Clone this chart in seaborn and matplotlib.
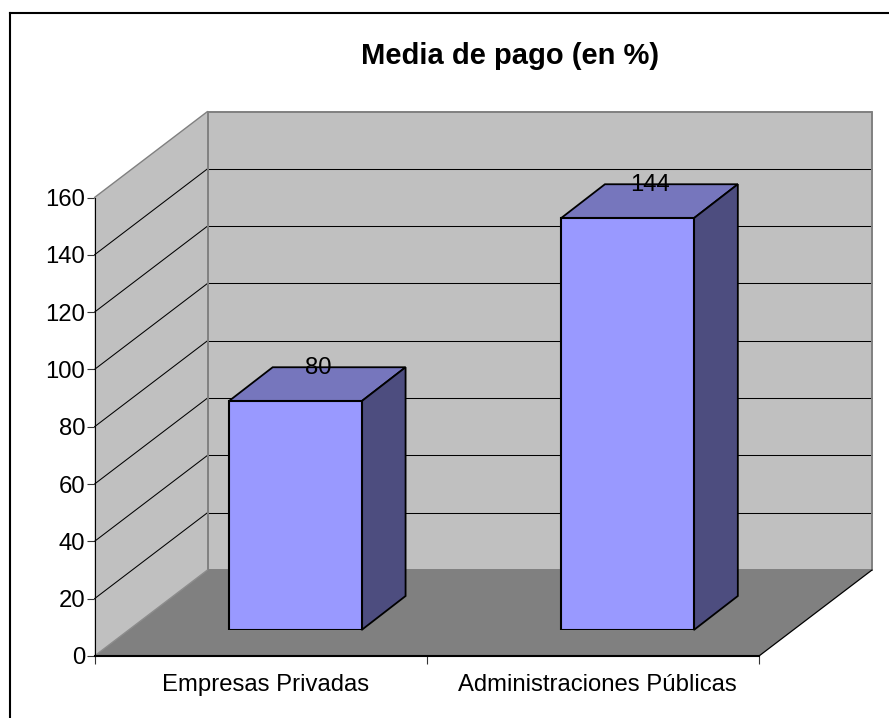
import numpy as np
import pandas as pd
import matplotlib
matplotlib.use("Agg")
import matplotlib.pyplot as plt
import seaborn as sns
from matplotlib.patches import Polygon
from matplotlib.lines import Line2D
from matplotlib.transforms import IdentityTransform, Affine2D

categories = ["Empresas Privadas", "Administraciones Públicas"]
values = [80, 144]
y_ticks = [0, 20, 40, 60, 80, 100, 120, 140, 160]
title = "Media de pago (en %)"

W, H = 889, 718
sns.set_theme(style="white")
plt.rcParams["font.family"] = ["Liberation Sans", "DejaVu Sans"]

WALL, FLOOR, EDGE = "#C0C0C0", "#808080", "#808080"
FRONT, TOP, SIDE = "#9999FF", "#7676BD", "#4D4D7F"
AX_L, AX_R, AX_T, AX_B = 94.5, 759.0, 197.5, 656.0
ROOM = np.array([113.0, 86.0])      # pixel depth of the room
BAR_OFF = np.array([34.5, 26.0])    # pixel offset of the bar front plane
BAR_D = np.array([44.0, 34.0])      # pixel depth of a bar
FS = 17.2

fig = plt.figure(figsize=(W / 100, H / 100), dpi=100, facecolor="white")


def axes_px(left, right, top, bottom):
    return fig.add_axes([left / W, 1 - bottom / H, (right - left) / W, (bottom - top) / H])


ax = axes_px(AX_L, AX_R, AX_T, AX_B)
ax.set_xlim(-0.5, 1.5)
ax.set_ylim(0, 160)
ax.patch.set_visible(False)


def px(x, y, depth=(0, 0)):
    return ax.transData.transform((x, y)) + np.asarray(depth, dtype=float)


def poly(axis, pts, fc, ec="none", lw=0, z=1):
    axis.add_patch(Polygon(np.array(pts), closed=True, facecolor=fc, edgecolor=ec, linewidth=lw,
                           transform=IdentityTransform(), clip_on=False, zorder=z, joinstyle="miter"))


def seg(p, q, color, lw, z=2):
    ax.add_line(Line2D([p[0], q[0]], [p[1], q[1]], color=color, linewidth=lw,
                       transform=IdentityTransform(), clip_on=False, zorder=z))


x0, x1 = -0.5, 1.5
y0, y1 = y_ticks[0], y_ticks[-1]
# Walls and floor
poly(ax, [px(x0, y0), px(x0, y1), px(x0, y1, ROOM), px(x0, y0, ROOM)], WALL)
poly(ax, [px(x0, y0, ROOM), px(x0, y1, ROOM), px(x1, y1, ROOM), px(x1, y0, ROOM)], WALL)
poly(ax, [px(x0, y0), px(x0, y0, ROOM), px(x1, y0, ROOM), px(x1, y0)], FLOOR)
# Gridlines
for t in y_ticks[1:-1]:
    seg(px(x0, t), px(x0, t, ROOM), "#000000", 0.75)
    seg(px(x0, t, ROOM), px(x1, t, ROOM), "#000000", 0.75)
# Room edges
seg(px(x0, y1), px(x0, y1, ROOM), EDGE, 1.0)
seg(px(x0, y1, ROOM), px(x1, y1, ROOM), EDGE, 1.4)
seg(px(x0, y0, ROOM), px(x0, y1, ROOM), EDGE, 1.4)
seg(px(x1, y0, ROOM), px(x1, y1, ROOM), EDGE, 1.4)
seg(px(x0, y0, ROOM), px(x1, y0, ROOM), EDGE, 1.4)
seg(px(x0, y0), px(x0, y0, ROOM), "#8C8C8C", 1.0)
seg(px(x1, y0), px(x1, y0, ROOM), "#000000", 0.9)

# Axes furniture
for s in ["top", "right"]:
    ax.spines[s].set_visible(False)
ax.spines["left"].set_color("#000000")
ax.spines["left"].set_linewidth(0.8)
ax.spines["bottom"].set_color("#000000")
ax.spines["bottom"].set_linewidth(1.5)
ax.set_yticks(y_ticks)
ax.tick_params(axis="y", direction="out", length=6, width=0.8, color="#333333", pad=0.8,
               labelsize=FS, labelcolor="#000000", left=True)
ax.set_xticks([-0.5, 0.5, 1.5])
ax.set_xticklabels([])
ax.tick_params(axis="x", which="major", direction="out", length=6, width=0.8, color="#333333", bottom=True)
ax.set_xticks([0, 1], minor=True)
ax.set_xticklabels(categories, minor=True)
ax.tick_params(axis="x", which="minor", length=0, pad=12.7, labelsize=FS, labelcolor="#000000")
for lab in ax.get_xticklabels(minor=True):
    lab.set_transform(lab.get_transform() + Affine2D().translate(4.5, 0))
ax.set_xlabel("")
ax.set_ylabel("")

# Bars, on the plane set back from the front of the room
ax2 = axes_px(AX_L + BAR_OFF[0], AX_R + BAR_OFF[0], AX_T - BAR_OFF[1] + 1, AX_B - BAR_OFF[1])
ax2.patch.set_visible(False)
df = pd.DataFrame({"categoria": categories, "valor": values})
sns.barplot(data=df, x="categoria", y="valor", color=FRONT, saturation=1, width=0.4,
            edgecolor="#000000", linewidth=1.5, ax=ax2, zorder=5)
ax2.set_xlim(-0.5, 1.5)
ax2.set_ylim(0, 160)
ax2.axis("off")

for bar, v in zip(ax2.patches, values):
    bx0, bx1 = bar.get_x(), bar.get_x() + bar.get_width()
    to = ax2.transData.transform
    fb_r, ft_r = to((bx1, 0)), to((bx1, v))
    ft_l = to((bx0, v))
    poly(ax2, [ft_l, ft_r, ft_r + BAR_D, ft_l + BAR_D], TOP, "#000000", 1.3, 4)
    poly(ax2, [fb_r, ft_r, ft_r + BAR_D, fb_r + BAR_D], SIDE, "#000000", 1.3, 4)
    ax2.annotate(str(v), xy=(bar.get_x() + bar.get_width() / 2, v),
                 xytext=BAR_D * np.array([0.52, 0.97]),
                 textcoords="offset pixels", ha="center", va="center",
                 fontsize=FS, color="#000000", zorder=8, annotation_clip=False)

fig.text(510 / W, 1 - 56 / H, title, ha="center", va="center", fontsize=21, fontweight="bold", color="#000000")

# Chart frame, cut by the image edges
fig.add_artist(Line2D([9.5 / W, 1.0], [1 - 13 / H, 1 - 13 / H], color="#000000", linewidth=1.5,
                      transform=fig.transFigure, solid_capstyle="projecting"))
fig.add_artist(Line2D([9.5 / W, 9.5 / W], [1 - 13 / H, 0.0], color="#000000", linewidth=1.5,
                      transform=fig.transFigure, solid_capstyle="projecting"))

fig.savefig("out.png", dpi=100, facecolor="white")
